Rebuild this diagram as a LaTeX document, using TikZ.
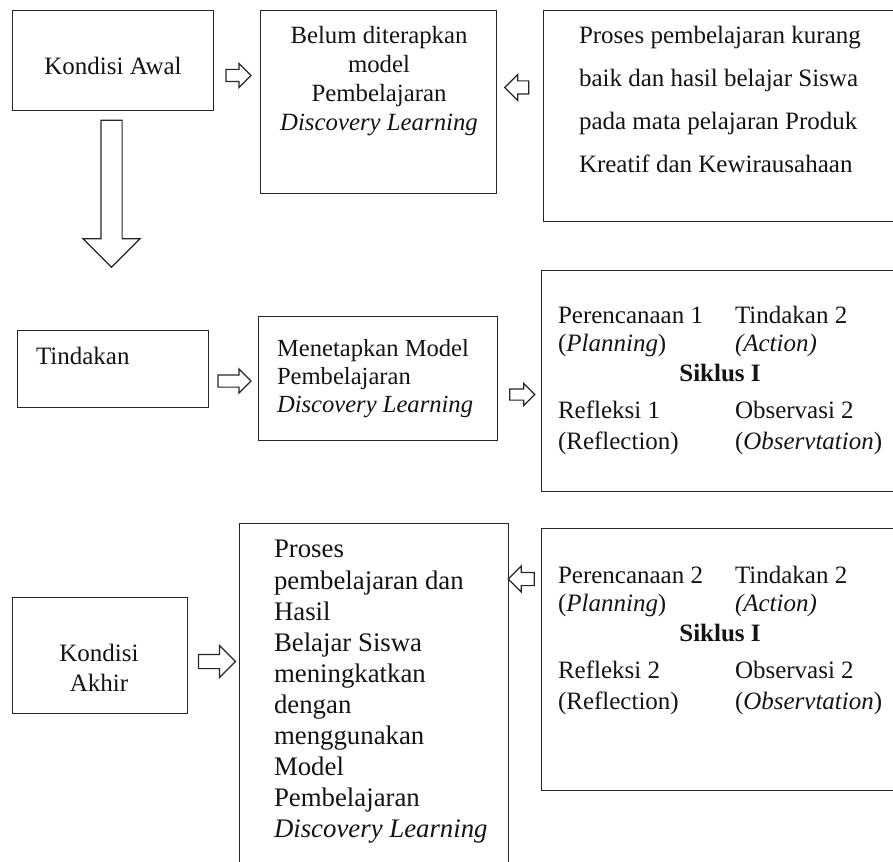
\documentclass[tikz,border=0pt]{standalone}
\usepackage{fontspec}
\setmainfont{Liberation Serif}
\usetikzlibrary{shapes.arrows}
\begin{document}
\begin{tikzpicture}[x=1pt,y=-1pt,
  box/.style={draw=black!85, line width=1pt, inner sep=0pt, outer sep=0pt},
  blockarrow/.style={single arrow, draw=black!85, line width=1.2pt, fill=white,
    inner xsep=0pt, outer sep=0pt, single arrow tip angle=90, single arrow head indent=0pt},
  txt/.style={inner sep=0pt, outer sep=0pt, text=black!92},
  fsA/.style={font=\fontsize{25}{29}\selectfont},
]
\clip (0,0) rectangle (893,861);
\fill[white] (0,0) rectangle (893,861);

% ---------- boxes ----------
\node[box, minimum width=201pt, minimum height=100pt] (awal)  at (112.5,61) {};
\node[box, minimum width=236pt, minimum height=182pt] (belum) at (378,102) {};
\node[box, minimum width=397pt, minimum height=210pt] (proses) at (741.5,116) {};
\node[box, minimum width=191pt, minimum height=77pt]  (tind)  at (112.5,368.5) {};
\node[box, minimum width=239pt, minimum height=124pt] (menet) at (377.5,378) {};
\node[box, minimum width=399pt, minimum height=221pt] (sik1)  at (740.5,380.5) {};
\node[box, minimum width=175pt, minimum height=116pt] (akhir) at (99.5,655) {};
\node[box, minimum width=269pt, minimum height=377pt] (hasil) at (373.5,711.5) {};
\node[box, minimum width=399pt, minimum height=262pt] (sik2)  at (740.5,659) {};

% ---------- block arrows ----------
\node[blockarrow, minimum height=25pt, inner ysep=5.5pt, single arrow head extend=6pt] (ar1) at (235.5,75.5) {};
\node[blockarrow, minimum height=24pt, inner ysep=6pt, single arrow head extend=6.5pt, shape border rotate=180] (ar2) at (520,87.5) {};
\node[blockarrow, minimum height=147pt, inner sep=10pt, single arrow head extend=18pt, shape border rotate=270] (ardown) at (111.5,188.5) {};
\node[blockarrow, minimum height=33pt, inner ysep=5.5pt, single arrow head extend=6pt] (ar3) at (231.5,381) {};
\node[blockarrow, minimum height=25pt, inner ysep=5pt, single arrow head extend=5.5pt] (ar4) at (519.5,394.5) {};
\node[blockarrow, minimum height=37pt, inner ysep=6.5pt, single arrow head extend=9pt] (ar5) at (213.5,661.5) {};
\node[blockarrow, minimum height=26pt, inner ysep=6pt, single arrow head extend=6.5pt, shape border rotate=180] (ar6) at (524.5,579) {};

% ---------- texts ----------
\node[txt, fsA, anchor=base] (tawal) at (113,74.5) {Kondisi Awal};
\node[txt, anchor=north, align=center, font=\fontsize{24.8}{29}\selectfont] (tbelum) at (379,23.1)
  {\strut Belum diterapkan\\model\\Pembelajaran\\\textit{Discovery Learning}};
\node[txt, anchor=north west, align=left, font=\fontsize{25}{43}\selectfont] (tproses) at (579,13.4)
  {\strut Proses pembelajaran kurang\\baik dan hasil belajar Siswa\\pada mata pelajaran Produk\\Kreatif dan Kewirausahaan};

\node[txt, fsA, anchor=base west] (ttind) at (36,364.5) {Tindakan};
\node[txt, anchor=north west, align=left, font=\fontsize{24.6}{28}\selectfont] (tmenet) at (277,336.8)
  {\strut Menetapkan Model\\Pembelajaran\\\textit{Discovery Learning}};

\node[txt, anchor=north west, align=left, font=\fontsize{25}{28}\selectfont] (p1) at (558,303.9)
  {\strut Perencanaan 1\\(\textit{Planning})};
\node[txt, anchor=north west, align=left, font=\fontsize{25}{28}\selectfont] (t1) at (735,303.9)
  {\strut Tindakan 2\\\textit{(Action)}};
\node[txt, anchor=base, font=\fontsize{25}{29}\selectfont\bfseries] (s1) at (720,381.5) {Siklus I};
\node[txt, anchor=north west, align=left, font=\fontsize{25}{31}\selectfont] (r1) at (558,396.8)
  {\strut Refleksi 1\\(Reflection)};
\node[txt, anchor=north west, align=left, font=\fontsize{25}{31}\selectfont] (o1) at (735,396.8)
  {\strut Observasi 2\\(\textit{Observtation})};

\node[txt, anchor=north, align=center, font=\fontsize{25}{30}\selectfont] (takhir) at (99,640.5)
  {\strut Kondisi\\Akhir};
\node[txt, anchor=north west, align=left, font=\fontsize{26.8}{31.1}\selectfont] (thasil) at (274,536.2)
  {\strut Proses\\pembelajaran dan\\Hasil\\Belajar Siswa\\meningkatkan\\dengan\\menggunakan\\Model\\Pembelajaran\\\textit{Discovery Learning}};

\node[txt, anchor=north west, align=left, font=\fontsize{25}{28}\selectfont] (p2) at (558,563.9)
  {\strut Perencanaan 2\\(\textit{Planning})};
\node[txt, anchor=north west, align=left, font=\fontsize{25}{28}\selectfont] (t2) at (735,563.9)
  {\strut Tindakan 2\\\textit{(Action)}};
\node[txt, anchor=base, font=\fontsize{25}{29}\selectfont\bfseries] (s2) at (720,641.5) {Siklus I};
\node[txt, anchor=north west, align=left, font=\fontsize{25}{31}\selectfont] (r2) at (558,656.8)
  {\strut Refleksi 2\\(Reflection)};
\node[txt, anchor=north west, align=left, font=\fontsize{25}{31}\selectfont] (o2) at (735,656.8)
  {\strut Observasi 2\\(\textit{Observtation})};
\end{tikzpicture}
\end{document}
